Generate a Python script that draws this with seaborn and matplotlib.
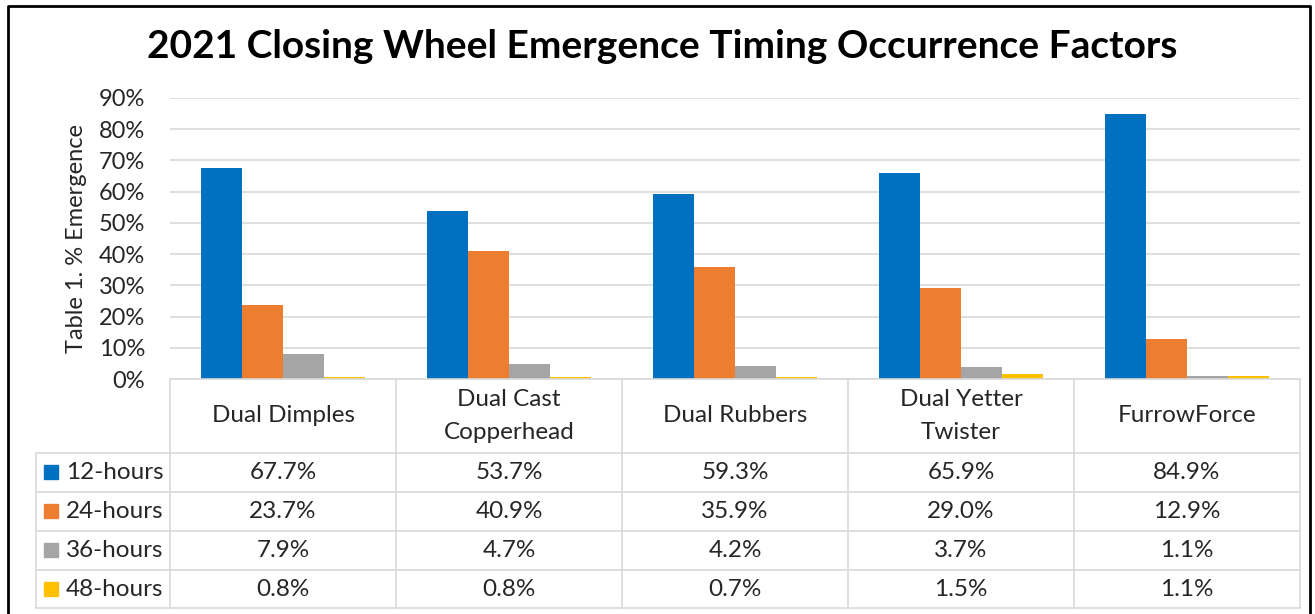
import pandas as pd
import matplotlib.pyplot as plt
from matplotlib.lines import Line2D
import seaborn as sns

# 数据
categories = ['Dual Dimples', 'Dual Cast\nCopperhead', 'Dual Rubbers', 'Dual Yetter\nTwister', 'FurrowForce']
series = ['12-hours', '24-hours', '36-hours', '48-hours']
h12 = [67.7, 53.7, 59.3, 65.9, 84.9]
h24 = [23.7, 40.9, 35.9, 29.0, 12.9]
h36 = [7.9, 4.7, 4.2, 3.7, 1.1]
h48 = [0.8, 0.8, 0.7, 1.5, 1.1]
colors = ['#0070C0', '#ED7D31', '#A5A5A5', '#FFC000']

values = [h12, h24, h36, h48]
rows = []
for s, vals in zip(series, values):
    for c, v in zip(categories, vals):
        rows.append({'category': c, 'series': s, 'value': v / 100})
data = pd.DataFrame(rows)

sns.set_theme(style="white")
plt.rcParams['font.family'] = ['Lato', 'DejaVu Sans']

W, H = 1315, 614
fig = plt.figure(figsize=(W / 100, H / 100), dpi=100)

def fx(px):
    return px / W

def fy(py):
    return 1 - py / H

# 绘图区
x0, x1, y_top, y_zero = 170, 1300, 98, 379
ax = fig.add_axes([fx(x0), fy(y_zero), fx(x1) - fx(x0), fy(y_top) - fy(y_zero)])
sns.barplot(data=data, x='category', y='value', hue='series', palette=colors,
            width=0.73, gap=0, legend=False, ax=ax, saturation=1, linewidth=0)
ax.set_ylim(0, 0.9)
ax.set_xlim(-0.5, len(categories) - 0.5)
ax.set_yticks([i / 10 for i in range(10)])
ax.set_yticklabels([f'{i * 10}%' for i in range(10)], fontsize=17)
ax.tick_params(axis='y', length=0, pad=18)
ax.set_xticks([])
ax.set_xlabel('')
ax.set_ylabel('Table 1. % Emergence', fontsize=17, labelpad=8)
ax.yaxis.grid(True, color='#D9D9D9', linewidth=1.2)
ax.set_axisbelow(True)
for sp in ['top', 'right', 'left']:
    ax.spines[sp].set_visible(False)
ax.spines['bottom'].set_color('#D9D9D9')
ax.spines['bottom'].set_linewidth(1.2)

fig.text(fx(662), fy(47), '2021 Closing Wheel Emergence Timing Occurrence Factors',
         ha='center', va='center', fontsize=28, fontweight='bold', color='black')

# 数据表
line_c = '#D9D9D9'
leg_x = 36
row_y = [453, 492, 531, 570, 608]
col_w = (x1 - x0) / len(categories)
col_x = [x0 + i * col_w for i in range(len(categories) + 1)]

for cx in col_x:
    fig.add_artist(Line2D([fx(cx), fx(cx)], [fy(y_zero), fy(row_y[-1])], color=line_c, lw=1.2))
fig.add_artist(Line2D([fx(leg_x), fx(leg_x)], [fy(row_y[0]), fy(row_y[-1])], color=line_c, lw=1.2))
for ry in row_y:
    fig.add_artist(Line2D([fx(leg_x), fx(x1)], [fy(ry), fy(ry)], color=line_c, lw=1.2))

for i, c in enumerate(categories):
    fig.text(fx(col_x[i] + col_w / 2), fy((y_zero + row_y[0]) / 2), c,
             ha='center', va='center', fontsize=17.5, linespacing=1.7)

for r, (s, vals, col) in enumerate(zip(series, values, colors)):
    yc = fy((row_y[r] + row_y[r + 1]) / 2)
    fig.patches.append(plt.Rectangle((fx(44), yc - (fy(0) - fy(6.5))), fx(14), fy(0) - fy(14),
                                     transform=fig.transFigure, color=col, figure=fig))
    fig.text(fx(66), yc, s, ha='left', va='center', fontsize=17.5)
    for i, v in enumerate(vals):
        fig.text(fx(col_x[i] + col_w / 2), yc, f'{v:.1f}%', ha='center', va='center', fontsize=17.5)

# 外边框
fig.add_artist(Line2D([fx(8), fx(8), fx(1310), fx(1310)], [0, fy(6), fy(6), 0], color='black', lw=2))

fig.savefig('out.png', dpi=100, facecolor='white')
